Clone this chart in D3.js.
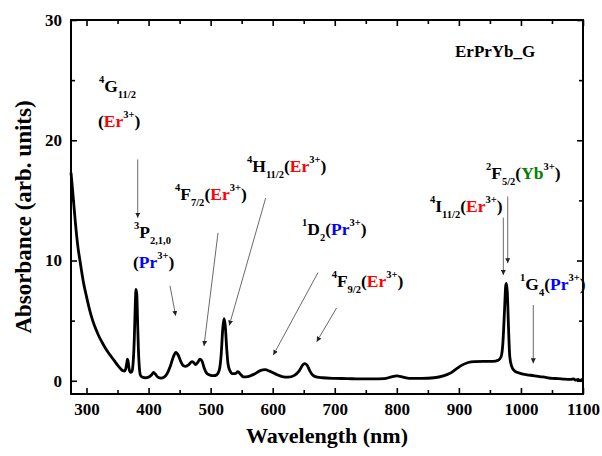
<!DOCTYPE html>
<html>
<head>
<meta charset="utf-8">
<script src="https://cdn.jsdelivr.net/npm/d3@7"></script>
<style>
  body { margin: 0; background: #fff; }
</style>
</head>
<body>
<script>
// absorption spectrum: [wavelength nm, absorbance]
let spectrum = [
  [275,17.3],[278,15.6],[282,13.2],[286,11.2],[290,9.8],[295,8.2],[300,7.0],[305,5.9],
  [310,5.0],[315,4.3],[320,3.7],[325,3.2],[330,2.75],[335,2.35],[340,2.0],[345,1.65],
  [350,1.3],[355,1.0],[358,0.85],[361,0.8],[363,0.95],[365,1.5],[366,1.8],[367,1.6],
  [369,0.9],[371,0.7],[373,0.75],[375,1.4],[377,3.5],[378.5,6.2],[379.7,7.6],[381,7.2],
  [382,5.5],[383.5,2.8],[385,1.2],[387,0.45],[390,0.3],[395,0.25],[400,0.3],[405,0.5],
  [408,0.7],[411,0.55],[415,0.3],[420,0.22],[425,0.3],[430,0.6],[435,1.2],[440,2.0],
  [444,2.35],[448,2.1],[452,1.6],[456,1.25],[460,1.2],[465,1.35],[470,1.6],[473,1.5],
  [476,1.35],[480,1.6],[483,1.8],[486,1.65],[490,1.0],[494,0.6],[500,0.45],[505,0.42],
  [510,0.5],[514,0.9],[517,2.2],[519.5,4.3],[521.5,5.17],[523.5,4.6],[526,2.6],[528,1.4],
  [531,0.85],[535,0.6],[540,0.6],[544,0.75],[548,0.55],[553,0.32],[560,0.35],[570,0.55],
  [580,0.85],[588,0.92],[595,0.8],[605,0.55],[615,0.35],[625,0.3],[635,0.45],[643,0.85],
  [649,1.35],[652,1.42],[656,1.25],[660,0.8],[665,0.45],[672,0.3],[680,0.25],[700,0.2],
  [720,0.18],[740,0.15],[760,0.15],[780,0.18],[790,0.3],[800,0.4],[810,0.3],[820,0.2],
  [840,0.2],[860,0.25],[875,0.4],[885,0.6],[895,0.95],[905,1.3],[915,1.52],[925,1.6],
  [940,1.62],[955,1.62],[963,1.7],[968,2.0],[971,3.2],[973.5,5.8],[975.5,7.9],[976.5,8.1],
  [978,7.4],[980,4.4],[982,2.0],[985,1.2],[990,0.8],[1000,0.6],[1010,0.5],[1020,0.43],
  [1030,0.35],[1040,0.28],[1050,0.2],[1060,0.18],[1070,0.14],[1080,0.12],[1085,0.15],
  [1088,0.05],[1092,0.12],[1095,0.02],[1098,0.1],[1100,0.05]
];

let xMajor = [300, 400, 500, 600, 700, 800, 900, 1000, 1100];
let xMinor = [350, 450, 550, 650, 750, 850, 950, 1050];
let yMajor = [0, 10, 20, 30];
let yMinor = [5, 15, 25];

let sampleName = "ErPrYb_G";

// labels: segments [text, kind, colour]
let labelTexts = [
  [["4","sup"],["G"],["11/2","sub"]],
  [["("],["Er","","#ff0000"],["3+","sup"],[")"]],
  [["3","sup"],["P"],["2,1,0","sub"]],
  [["("],["Pr","","#0000ff"],["3+","sup"],[")"]],
  [["4","sup"],["F"],["7/2","sub"],["("],["Er","","#ff0000"],["3+","sup"],[")"]],
  [["4","sup"],["H"],["11/2","sub"],["("],["Er","","#ff0000"],["3+","sup"],[")"]],
  [["1","sup"],["D"],["2","sub"],["("],["Pr","","#0000ff"],["3+","sup"],[")"]],
  [["4","sup"],["F"],["9/2","sub"],["("],["Er","","#ff0000"],["3+","sup"],[")"]],
  [["4","sup"],["I"],["11/2","sub"],["("],["Er","","#ff0000"],["3+","sup"],[")"]],
  [["2","sup"],["F"],["5/2","sub"],["("],["Yb","","#008000"],["3+","sup"],[")"]],
  [["1","sup"],["G"],["4","sub"],["("],["Pr","","#0000ff"],["3+","sup"],[")"]]
];
// where each label sits (wavelength, absorbance of its baseline)
let labelAt = [
  [320, 24.0], [318.5, 21.1], [376.5, 11.9], [374.9, 9.4], [442.6, 15.06], [558.6, 17.4],
  [647.2, 12.1], [695, 7.8], [853.5, 14.0], [943.7, 16.8], [998.5, 7.56]
];
// arrows: from [wl, abs] to [wl, abs]
let arrowFrom = [
  [382.5, 18.4], [434.5, 7.9], [511.9, 12.3], [588.7, 15.2], [673, 9.0],
  [703, 6.06], [978.7, 15.33], [971.6, 13.56], [1019.9, 6.3]
];
let arrowTo = [
  [382.5, 13.56], [443.7, 5.4], [489.3, 2.9], [530, 4.6], [601, 2.14],
  [670.9, 3.25], [978.7, 9.78], [971.6, 8.8], [1019.9, 1.45]
];

let serif = '"Liberation Serif", "Times New Roman", "DejaVu Serif", serif';

let svgWidth = 602;
let svgHeight = 456;
let margins = { top: 20, right: 19, bottom: 62, left: 71 };
let chartWidth = svgWidth - margins.left - margins.right;
let chartHeight = svgHeight - margins.top - margins.bottom;

let svg = d3.select('body')
  .append('svg')
  .attr('width', svgWidth)
  .attr('height', svgHeight)
  .style('font-family', serif)
  .style('font-weight', 'bold');

let chart = svg.append('g')
  .attr('transform', `translate(${margins.left}, ${margins.top})`);

let x = d3.scaleLinear().domain([275, 1100]).range([0, chartWidth]);
let y = d3.scaleLinear().domain([-1.1, 30]).range([chartHeight, 0]);

// ticks (inward on all four sides)
let axes = [
  [() => d3.axisBottom(x), `translate(0, ${chartHeight})`, xMajor, xMinor, true],
  [() => d3.axisTop(x), 'translate(0, 0)', xMajor, xMinor, false],
  [() => d3.axisLeft(y), 'translate(0, 0)', yMajor, yMinor, true],
  [() => d3.axisRight(y), `translate(${chartWidth}, 0)`, yMajor, yMinor, false]
];
axes.forEach(function (a) {
  let gMaj = chart.append('g').attr('transform', a[1])
    .call(a[0]().tickValues(a[2]).tickSize(-6).tickPadding(9)
      .tickFormat(a[4] ? d3.format('d') : ''));
  let gMin = chart.append('g').attr('transform', a[1])
    .call(a[0]().tickValues(a[3]).tickSize(-4).tickFormat(''));
  [gMaj, gMin].forEach(function (g) {
    g.attr('font-family', null).attr('font-size', null);
    g.select('.domain').remove();
    g.selectAll('line').attr('stroke', '#000').attr('stroke-width', 1.6);
    g.selectAll('text').attr('fill', '#000')
      .style('font-size', '17px').style('font-family', serif).style('font-weight', 'bold');
  });
});

let line = d3.line()
  .x(d => x(d[0]))
  .y(d => y(d[1]))
  .curve(d3.curveMonotoneX);

chart.append('path')
  .datum(spectrum)
  .attr('fill', 'none')
  .attr('stroke', '#000')
  .attr('stroke-width', 2.8)
  .attr('stroke-linejoin', 'round')
  .attr('d', line);

// frame
chart.append('rect')
  .attr('width', chartWidth)
  .attr('height', chartHeight)
  .attr('fill', 'none')
  .attr('stroke', '#000')
  .attr('stroke-width', 2);

// arrows
svg.append('defs').append('marker')
  .attr('id', 'head')
  .attr('viewBox', '0 0 10 10')
  .attr('refX', 10).attr('refY', 5)
  .attr('markerWidth', 5).attr('markerHeight', 5)
  .attr('markerUnits', 'userSpaceOnUse')
  .attr('orient', 'auto')
  .append('path').attr('d', 'M0,0L10,5L0,10Z').attr('fill', '#222');

arrowFrom.forEach(function (f, i) {
  chart.append('line')
    .attr('x1', x(f[0])).attr('y1', y(f[1]))
    .attr('x2', x(arrowTo[i][0])).attr('y2', y(arrowTo[i][1]))
    .attr('stroke', '#444')
    .attr('stroke-width', 0.8)
    .attr('marker-end', 'url(#head)');
});

// labels with super/subscripts
labelTexts.forEach(function (segs, i) {
  let t = chart.append('text')
    .attr('x', x(labelAt[i][0]))
    .attr('y', y(labelAt[i][1]))
    .style('font-family', serif);
  let cur = 0;
  segs.forEach(function (s) {
    let off = s[1] === 'sup' ? -9 : s[1] === 'sub' ? 6 : 0;
    t.append('tspan')
      .attr('dy', off - cur)
      .style('font-size', (s[1] ? 10.5 : 17.5) + 'px')
      .attr('fill', s[2] || '#000')
      .text(s[0]);
    cur = off;
  });
});

chart.append('text')
  .attr('x', x(893.8))
  .attr('y', y(26.9))
  .style('font-size', '17px')
  .text(sampleName);

// axis titles
svg.append('text')
  .attr('x', margins.left + chartWidth / 2)
  .attr('y', 443)
  .attr('text-anchor', 'middle')
  .style('font-size', '22px')
  .text('Wavelength (nm)');

svg.append('text')
  .attr('transform', 'translate(31, 217) rotate(-90)')
  .attr('text-anchor', 'middle')
  .style('font-size', '23px')
  .text('Absorbance (arb. units)');
</script>
</body>
</html>
